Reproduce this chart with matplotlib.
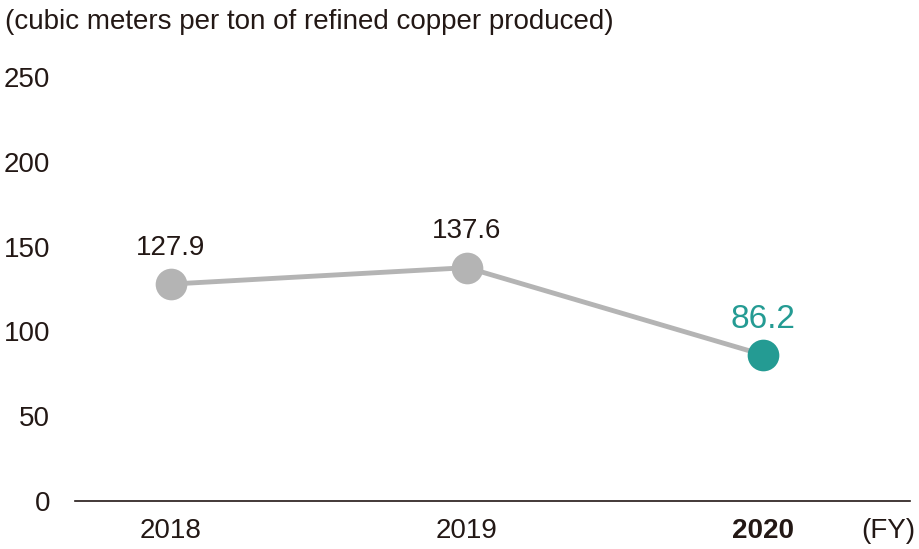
import matplotlib.pyplot as plt

years = ['2018', '2019', '2020']
values = [127.9, 137.6, 86.2]
labels = ['127.9', '137.6', '86.2']
y_ticks = [0, 50, 100, 150, 200, 250]

plt.rcParams['font.family'] = ['Liberation Sans', 'DejaVu Sans']

gray = '#b4b4b4'
teal = '#249b93'
dark = '#231815'

fig = plt.figure(figsize=(9.2, 5.49), dpi=100)
ax = fig.add_axes([75 / 920, 48 / 549, 835 / 920, 424 / 549])

x = list(range(len(years)))
ax.plot(x, values, color=gray, linewidth=3.5, zorder=1)
ax.scatter(x[:-1], values[:-1], s=520, color=gray, zorder=2, linewidths=0)
ax.scatter(x[-1:], values[-1:], s=520, color=teal, zorder=2, linewidths=0)

for i, (v, lab) in enumerate(zip(values, labels)):
    if i == len(values) - 1:
        ax.annotate(lab, (i, v), xytext=(0, 19), textcoords='offset points',
                    ha='center', va='baseline', fontsize=24, color=teal)
    else:
        ax.annotate(lab, (i, v), xytext=(0, 21), textcoords='offset points',
                    ha='center', va='baseline', fontsize=20, color=dark)

ax.set_xlim(-96 / 296, 2 + 147 / 296)
ax.set_ylim(0, 250)
ax.set_yticks(y_ticks)
ax.set_yticklabels([str(t) for t in y_ticks])
ax.set_xticks(x)
ax.set_xticklabels(years)
for t in ax.get_xticklabels():
    t.set_fontsize(20)
    t.set_color(dark)
ax.get_xticklabels()[-1].set_fontweight('bold')
for t in ax.get_yticklabels():
    t.set_fontsize(20)
    t.set_color(dark)

ax.tick_params(axis='both', length=0)
ax.tick_params(axis='y', pad=18)
ax.tick_params(axis='x', pad=12)
for s in ['top', 'right', 'left']:
    ax.spines[s].set_visible(False)
ax.spines['bottom'].set_color(dark)
ax.spines['bottom'].set_linewidth(1.2)

fig.text(5 / 920, 1 - 22 / 549, '(cubic meters per ton of refined copper produced)',
         fontsize=20, color=dark, ha='left', va='center')
fig.text(915 / 920, 1 - 531 / 549, '(FY)', fontsize=20, color=dark,
         ha='right', va='center')

fig.savefig('out.png', dpi=100)
